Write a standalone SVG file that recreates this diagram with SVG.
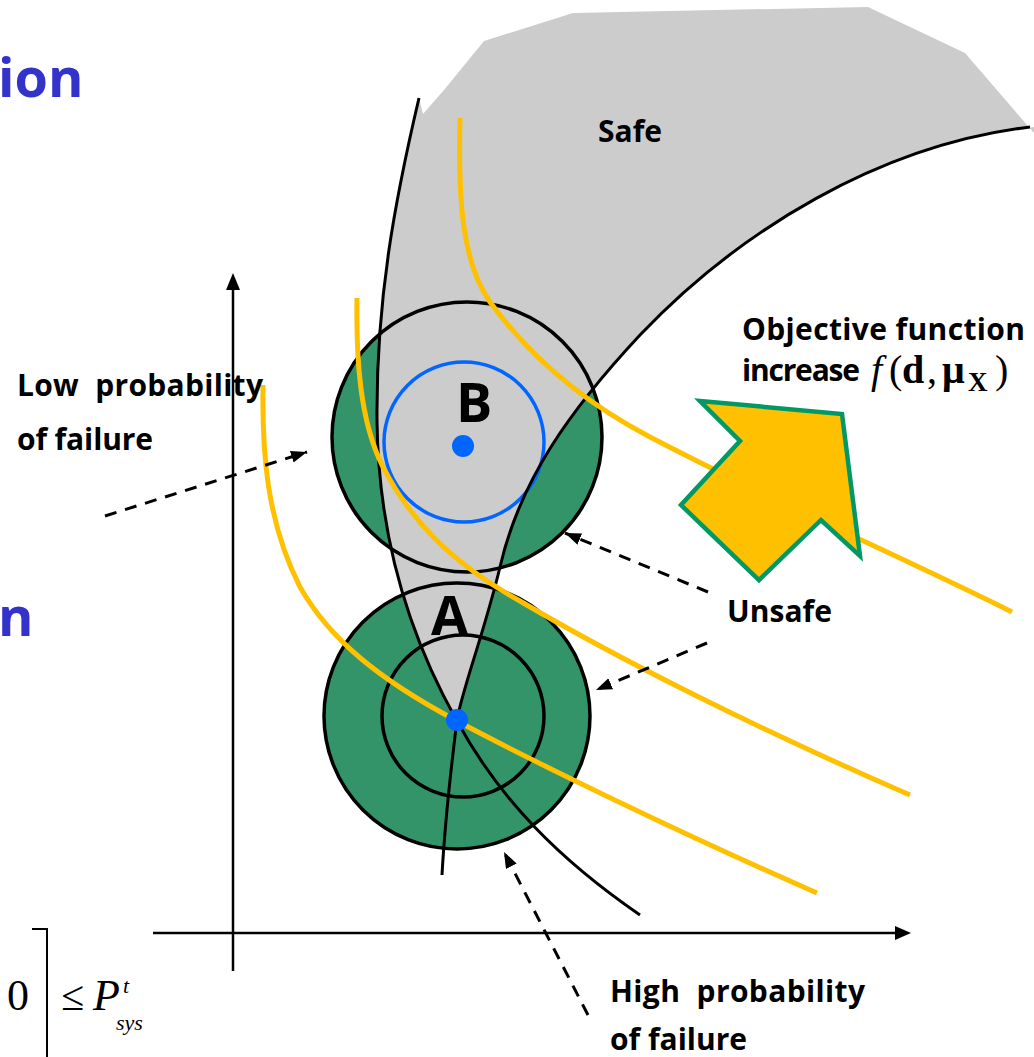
<svg xmlns="http://www.w3.org/2000/svg" width="1034" height="1057" viewBox="0 0 1034 1057">
<defs>
<style>
.lbl{font-family:"Open Sans","Liberation Sans",sans-serif;font-weight:bold;font-size:30px;fill:#000}
.title{font-family:"Open Sans","Liberation Sans",sans-serif;font-weight:bold;font-size:54px;fill:#3333CC}
.math{font-family:"Liberation Serif","Times New Roman",serif;fill:#000}
.yel{fill:none;stroke:#FFC000;stroke-width:5}
.blk{fill:none;stroke:#000;stroke-width:3}
.ring{fill:none;stroke:#000;stroke-width:3.5}
.dash{fill:none;stroke:#000;stroke-width:3;stroke-dasharray:12 9}
</style>
<marker id="ah" markerUnits="userSpaceOnUse" markerWidth="18" markerHeight="14" refX="16" refY="6" orient="auto">
<path d="M0,0 L16,6 L0,12 z" fill="#000"/>
</marker>
</defs>
<rect width="1034" height="1057" fill="#fff"/>

<g id="slide-text">
<text class="title" x="-2" y="97">ion</text>
<text class="title" x="-2" y="636">n</text>
<g id="formula">
<path d="M32,929 H47 V1057" fill="none" stroke="#000" stroke-width="2"/>
<text class="math" x="7" y="1010" font-size="44">0</text>
<text class="math" x="61" y="1010" font-size="42">≤</text>
<text class="math" x="93" y="1010" font-size="44" font-style="italic">P</text>
<text class="math" x="123" y="993" font-size="22" font-style="italic">t</text>
<text class="math" x="116" y="1030" font-size="22" font-style="italic">sys</text>
</g>
</g>

<g id="axes">
<line x1="233" y1="287" x2="233" y2="971" stroke="#000" stroke-width="2.5"/>
<polygon points="233,273 226,290 240,290" fill="#000"/>
<line x1="153" y1="933" x2="897" y2="933" stroke="#000" stroke-width="2.5"/>
<polygon points="911,933 895,926 895,940" fill="#000"/>
</g>

<g id="circle-B-fill"><circle cx="467" cy="437" r="135" fill="#339469"/></g>
<g id="circle-A-fill"><circle cx="457" cy="716" r="133" fill="#339469"/></g>

<g id="safe-region">
<path d="M423,114 L444,90 L484,41 L573,13 L868,7 L965,53 L1034,133 L1034,127 C880,145 740,230 640,335 C570,410 520,480 500,567 C485,630 462,690 457,720 C400,620 378,520 377,420 C376,300 395,200 419,98 Z" fill="#cccccc"/>
<text class="lbl" x="598" y="142" textLength="64">Safe</text>
</g>

<g id="circle-B">
<circle class="ring" cx="467" cy="437" r="135"/>
<circle cx="464" cy="442" r="80" fill="none" stroke="#0066FF" stroke-width="3.5"/>
</g>
<g id="circle-A">
<circle class="ring" cx="457" cy="716" r="133"/>
<circle class="ring" cx="463" cy="716" r="81"/>
</g>

<g id="limit-states">
<path class="blk" d="M419,98 C395,200 376,300 377,420 C378,520 400,620 457,721 C500,800 560,860 640,915"/>
<path class="blk" d="M1030,127 C880,145 740,230 640,335 C570,410 520,480 500,567 C485,630 462,690 457,720 C452,760 445,820 442,875"/>
</g>

<g id="objective-contours">
<path class="yel" d="M460,118 C458,200 462,262 490,302 C525,350 575,398 650,437 C780,505 900,556 1012,612"/>
<path class="yel" d="M357,298 C356,360 360,420 382,465 C410,520 450,562 520,601 C620,660 760,730 910,795"/>
<path class="yel" d="M263,385 C262,450 266,520 300,587 C330,640 380,680 457,721 C540,765 680,833 817,893"/>
</g>

<g id="points">
<circle cx="463" cy="446" r="11" fill="#0066FF"/>
<circle cx="457" cy="720" r="11" fill="#0066FF"/>
<text class="lbl" x="456" y="422" style="font-size:54px">B</text>
<text class="lbl" x="431" y="635" style="font-size:54px">A</text>
</g>

<g id="increase-arrow">
<polygon points="700,401 842,414 860,556 821,520 759,580 681,505 740,441" fill="#FFC000" stroke="#009966" stroke-width="4.5" stroke-linejoin="miter"/>
</g>

<g id="labels">
<text class="lbl" x="742" y="340" textLength="283">Objective function</text>
<text class="lbl" x="742" y="381" textLength="118">increase</text>
<text class="math" y="383" font-size="40"><tspan x="871" font-style="italic">f</tspan><tspan x="889">(</tspan><tspan x="902" font-weight="bold">d</tspan><tspan x="927">,</tspan><tspan x="942" font-weight="bold">μ</tspan><tspan x="968" y="391" font-weight="bold" font-size="27">X</tspan><tspan x="995" y="383">)</tspan></text>
<text class="lbl" x="17" y="396" textLength="246" xml:space="preserve">Low  probability</text>
<text class="lbl" x="17" y="450" textLength="136">of failure</text>
<text class="lbl" x="727" y="622" textLength="105">Unsafe</text>
<text class="lbl" x="610" y="1002" textLength="255" xml:space="preserve">High  probability</text>
<text class="lbl" x="610" y="1050" textLength="137">of failure</text>
</g>

<g id="connectors">
<line class="dash" x1="105" y1="516" x2="307" y2="452" marker-end="url(#ah)"/>
<line class="dash" x1="708" y1="592" x2="565" y2="533" marker-end="url(#ah)"/>
<line class="dash" x1="707" y1="643" x2="596" y2="690" marker-end="url(#ah)"/>
<line class="dash" x1="588" y1="1015" x2="504" y2="852" marker-end="url(#ah)"/>
</g>
</svg>
